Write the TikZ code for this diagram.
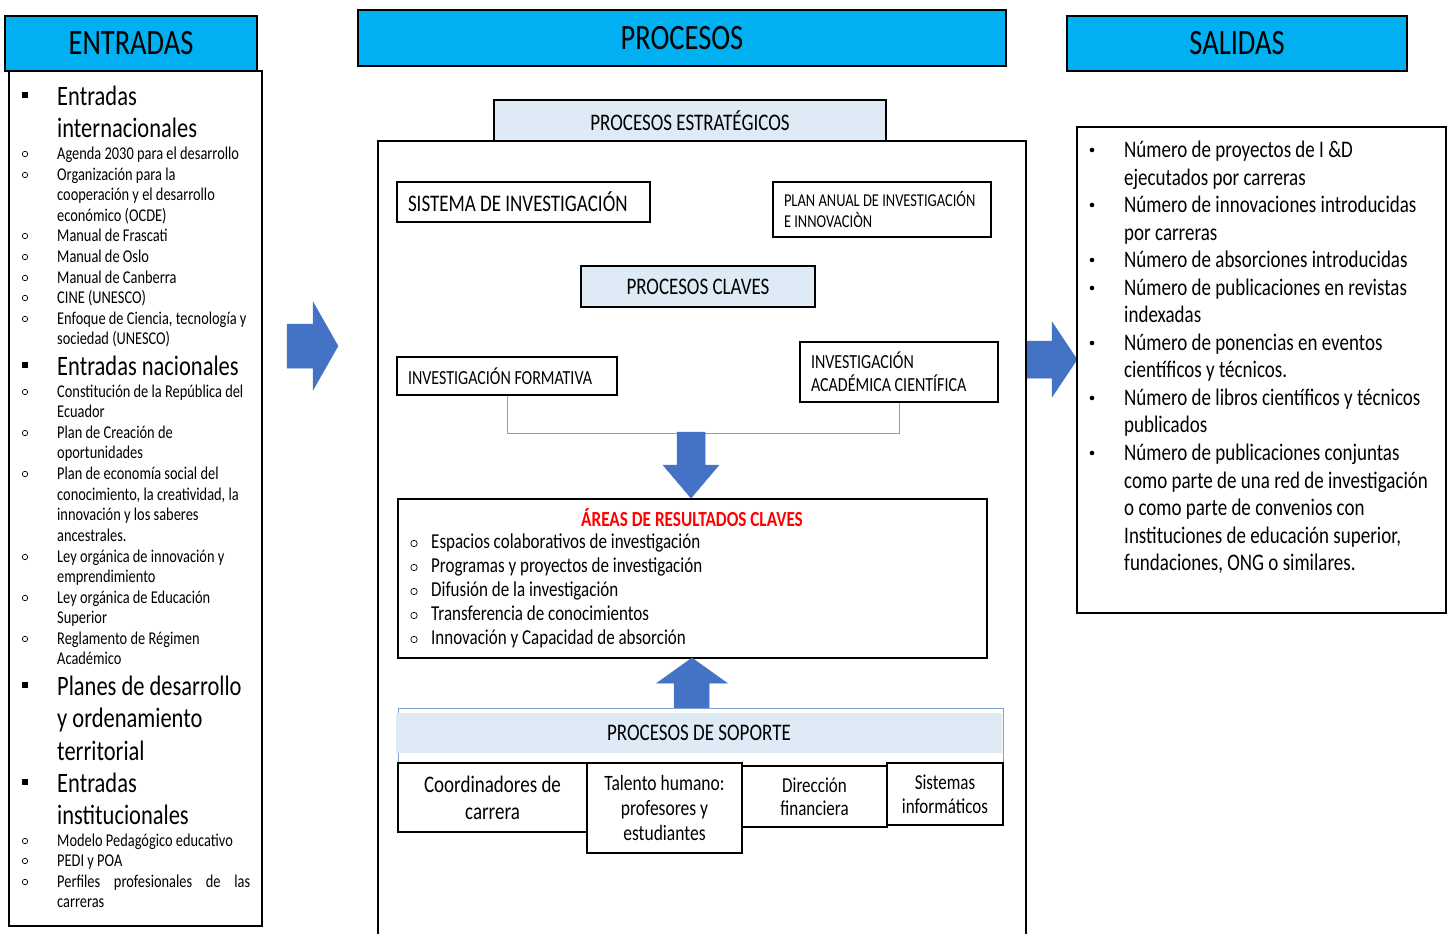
\documentclass[tikz,border=0pt]{standalone}
\usepackage{fontspec}
\setmainfont{Carlito}[FakeStretch=0.8]
\definecolor{hdrcyan}{HTML}{00B0F0}
\definecolor{lblue}{HTML}{DEEBF7}
\definecolor{ablue}{HTML}{4472C4}
\definecolor{tblue}{HTML}{7F9FD8}
\begin{document}
\begin{tikzpicture}[x=1pt,y=-1pt,
  hdr/.style={draw, line width=1.3pt, fill=hdrcyan, inner sep=0pt, font=\fontsize{35.6}{40}\selectfont},
  box/.style={draw, line width=1.2pt, inner sep=0pt},
  lbox/.style={box, align=left},
  etext/.style={anchor=base west, inner sep=0pt, font=\fontsize{18}{20}\selectfont},
  ebig/.style={anchor=base west, inner sep=0pt, font=\fontsize{28.1}{32}\selectfont},
  atext/.style={anchor=base west, inner sep=0pt, font=\fontsize{21.25}{24}\selectfont},
  stext/.style={anchor=base west, inner sep=0pt, font=\fontsize{23.75}{27}\selectfont},
  blockarrow/.style={fill=ablue, draw=ablue, line width=0.5pt},
  thinline/.style={draw=tblue, line width=0.8pt}
]
\useasboundingbox (0,0) rectangle (1454,934);

% ---------- headers ----------
\node[hdr, minimum width=252pt, minimum height=55pt] (hE) at (131,43.5) {\raisebox{-2.5pt}{ENTRADAS}};
\node[hdr, minimum width=648pt, minimum height=56pt] (hP) at (682,38) {\raisebox{-2.5pt}{PROCESOS}};
\node[hdr, minimum width=340pt, minimum height=55pt] (hS) at (1237,43.5) {\raisebox{-2.5pt}{SALIDAS}};

% ---------- ENTRADAS box ----------
\node[box, minimum width=253pt, minimum height=855pt] (ebox) at (135.5,498.5) {};

\foreach \yy in {95,365,685,782}
  \fill (22,\yy-3) rectangle (28,\yy+3);
\foreach \yy in {153,174,235,256,277,297,318,391,432,473,556,597,638,840,860,881}
  \draw[line width=0.7pt] (25,\yy+1) circle (2.7);

\node[ebig] (b1) at (57,95+10) {Entradas};
\node[ebig] (b2) at (57,127+10) {internacionales};
\node[ebig] (b3) at (57,365+10) {Entradas nacionales};
\node[ebig] (b4) at (57,685+10) {Planes de desarrollo};
\node[ebig] (b5) at (57,717+10) {y ordenamiento};
\node[ebig] (b6) at (57,750+10) {territorial};
\node[ebig] (b7) at (57,782+10) {Entradas};
\node[ebig] (b8) at (57,814+10) {institucionales};

\foreach \yy/\tx [count=\i] in {
  153/{Agenda 2030 para el desarrollo},
  174/{Organización para la},
  194/{cooperación y el desarrollo},
  215/{económico (OCDE)},
  235/{Manual de Frascati},
  256/{Manual de Oslo},
  277/{Manual de Canberra},
  297/{CINE (UNESCO)},
  318/{Enfoque de Ciencia, tecnología y},
  338/{sociedad (UNESCO)},
  391/{Constitución de la República del},
  411/{Ecuador},
  432/{Plan de Creación de},
  452/{oportunidades},
  473/{Plan de economía social del},
  494/{conocimiento, la creatividad, la},
  514/{innovación y los saberes},
  535/{ancestrales.},
  556/{Ley orgánica de innovación y},
  576/{emprendimiento},
  597/{Ley orgánica de Educación},
  617/{Superior},
  638/{Reglamento de Régimen},
  658/{Académico},
  840/{Modelo Pedagógico educativo},
  860/{PEDI y POA},
  901/{carreras}}
  \node[etext] (e\i) at (57,\yy+6.5) {\tx};
\node[etext] (eperf) at (57,881+6.5) {\makebox[193pt][s]{Perfiles profesionales de las}};

% ---------- block arrows (right) ----------
\fill[blockarrow] (287,324) -- (313,324) -- (313,302) -- (338,346) -- (313,390) -- (313,368) -- (287,368) -- cycle;
\fill[blockarrow] (1027,341) -- (1052,341) -- (1052,322) -- (1077,359.5) -- (1052,397) -- (1052,378) -- (1027,378) -- cycle;

% ---------- PROCESOS ----------
\node[box, minimum width=648pt, minimum height=810pt] (pbox) at (702,546) {};
\node[box, fill=lblue, minimum width=392pt, minimum height=41pt, font=\fontsize{23.75}{27}\selectfont] (pest) at (690,120.5) {PROCESOS ESTRATÉGICOS};

\node[lbox, minimum width=253pt, minimum height=40pt, font=\fontsize{23.75}{27}\selectfont] (sis) at (523.5,202) {\makebox[231pt][l]{SISTEMA DE INVESTIGACIÓN}};
\node[lbox, minimum width=218pt, minimum height=55pt, font=\fontsize{18.1}{21}\selectfont] (plan) at (882,209.5) {\makebox[196pt][l]{PLAN ANUAL DE INVESTIGACIÓN}\\\makebox[196pt][l]{E INNOVACIÒN}};
\node[box, fill=lblue, minimum width=234pt, minimum height=41pt, font=\fontsize{23.75}{27}\selectfont] (pcla) at (698,286.5) {PROCESOS CLAVES};
\node[lbox, minimum width=220pt, minimum height=38pt, font=\fontsize{20}{23}\selectfont] (ifor) at (507,376) {\makebox[198pt][l]{INVESTIGACIÓN FORMATIVA}};
\node[lbox, minimum width=198pt, minimum height=60pt, font=\fontsize{20}{23}\selectfont] (iac) at (899,372) {\makebox[176pt][l]{INVESTIGACIÓN}\\\makebox[176pt][l]{ACADÉMICA CIENTÍFICA}};

\coordinate (jn) at (507,433);
\draw[thinline] (ifor.south) -- (jn) -| (iac.south);

\fill[blockarrow] (677,432) -- (705,432) -- (705,465) -- (719,465) -- (691,498) -- (663,465) -- (677,465) -- cycle;

\node[box, minimum width=589pt, minimum height=159pt] (areas) at (692.5,578.5) {};
\node[inner sep=0pt, text=red, font=\bfseries\fontsize{21.5}{24}\selectfont] (atit) at (692,518) {ÁREAS DE RESULTADOS CLAVES};
\foreach \yy/\tx [count=\i] in {
  542/{Espacios colaborativos de investigación},
  566/{Programas y proyectos de investigación},
  590/{Difusión de la investigación},
  614/{Transferencia de conocimientos},
  638/{Innovación y Capacidad de absorción}}
{
  \draw[line width=0.7pt] (414,\yy+1.5) circle (3.2);
  \node[atext] (a\i) at (431,\yy+6.5) {\tx};
}

\fill[blockarrow] (692,658) -- (727,683) -- (709,683) -- (709,708) -- (674,708) -- (674,683) -- (657,683) -- cycle;

% ---------- soporte ----------
\draw[thinline] (398,765) -- (398,708) -- (1003,708) -- (1003,765);
\node[fill=lblue, minimum width=606pt, minimum height=40pt, inner sep=0pt, font=\fontsize{23.75}{27}\selectfont] (psop) at (699,733) {PROCESOS DE SOPORTE};

\node[box, fill=white, minimum width=189pt, minimum height=69pt, align=center, font=\fontsize{23.75}{27}\selectfont] (coord) at (492.5,797.5) {Coordinadores de\\carrera};
\node[box, fill=white, minimum width=145pt, minimum height=61pt, align=center, font=\fontsize{21.25}{23}\selectfont] (dir) at (814.5,796.5) {Dirección\\financiera};
\node[box, fill=white, minimum width=116pt, minimum height=62pt, align=center, font=\fontsize{21.25}{24}\selectfont] (sist) at (945,794) {Sistemas\\informáticos};
\node[box, fill=white, minimum width=155pt, minimum height=90pt, align=center, font=\fontsize{21.9}{25}\selectfont] (tal) at (664.5,808) {Talento humano:\\profesores y\\estudiantes};

% ---------- SALIDAS ----------
\node[box, minimum width=369pt, minimum height=486pt] (sbox) at (1261.5,370) {};
\foreach \yy in {149,204,259,287,342,397,452}
  \fill (1092,\yy+1) circle (2.3);
\foreach \yy/\tx [count=\i] in {
  149/{Número de proyectos de I \&D},
  177/{ejecutados por carreras},
  204/{Número de innovaciones introducidas},
  232/{por carreras},
  259/{Número de absorciones introducidas},
  287/{Número de publicaciones en revistas},
  314/{indexadas},
  342/{Número de ponencias en eventos},
  369/{científicos y técnicos.},
  397/{Número de libros científicos y técnicos},
  424/{publicados},
  452/{Número de publicaciones conjuntas},
  480/{como parte de una red de investigación},
  507/{o como parte de convenios con},
  535/{Instituciones de educación superior,},
  562/{fundaciones, ONG o similares.}}
  \node[stext] (s\i) at (1124,\yy+8.5) {\tx};
\end{tikzpicture}
\end{document}
